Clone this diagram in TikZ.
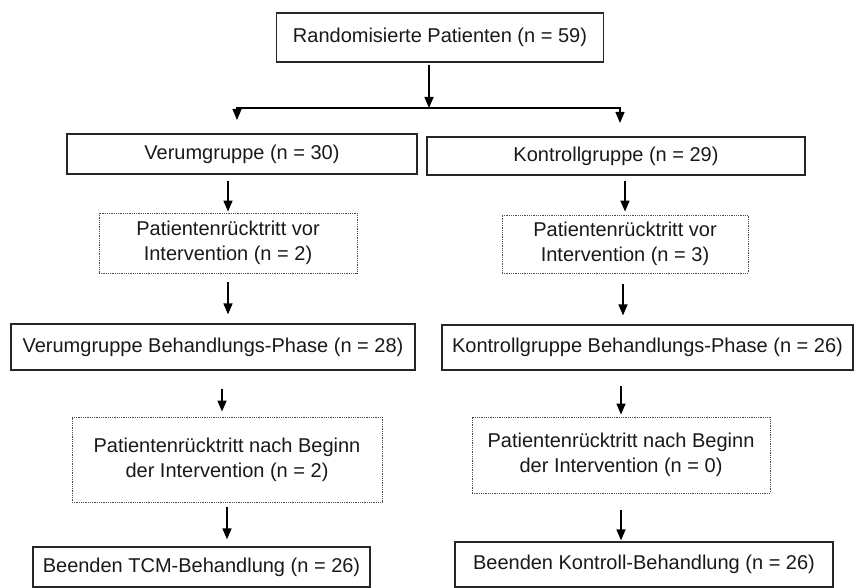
\documentclass[tikz,border=0pt]{standalone}
\usepackage{fontspec}
\setmainfont{Liberation Sans}
\usetikzlibrary{arrows.meta,calc}
\begin{document}
\begin{tikzpicture}[x=1pt,y=-1pt,
  every node/.style={font=\fontsize{20}{25}\selectfont, text=black!90, inner sep=0pt},
  solidbox/.style={draw=black!85, line width=1.2pt, rectangle, align=center},
  dotbox/.style={draw=black!70, line width=0.9pt, dash pattern=on 1pt off 0.8pt, rectangle, align=center},
  arr/.style={draw=black, line width=1.5pt, -{Triangle[width=9pt,length=11pt]}},
  dblarr/.style={draw=black, line width=1.2pt, {Triangle[width=9pt,length=11pt]}-{Triangle[width=9pt,length=11pt]}}
]
\useasboundingbox (0,0) rectangle (861,588);

\node[solidbox, minimum width=327pt, minimum height=49pt] (top) at (440,37.5) {Randomisierte Patienten (n = 59)};

\node[solidbox, minimum width=350pt, minimum height=40pt] (verum) at (242,154) {Verumgruppe (n = 30)};
\node[solidbox, minimum width=378pt, minimum height=38pt] (kontroll) at (616,156) {Kontrollgruppe (n = 29)};

\node[dotbox, minimum width=258pt, minimum height=60pt] (drop1) at (228,243) {Patientenrücktritt vor\\Intervention (n = 2)};
\node[dotbox, minimum width=246pt, minimum height=58pt] (drop2) at (625,244) {Patientenrücktritt vor\\Intervention (n = 3)};

\node[solidbox, minimum width=404pt, minimum height=46pt] (vbeh) at (213,347) {Verumgruppe Behandlungs-Phase (n = 28)};
\node[solidbox, minimum width=411pt, minimum height=45pt] (kbeh) at (647.5,347.5) {Kontrollgruppe Behandlungs-Phase (n = 26)};

\node[dotbox, minimum width=310pt, minimum height=85pt] (drop3) at (227,459.5) {Patientenrücktritt nach Beginn\\der Intervention (n = 2)};
\node[dotbox, minimum width=298pt, minimum height=76pt] (drop4) at (621,455) {Patientenrücktritt nach Beginn\\der Intervention (n = 0)};

\node[solidbox, minimum width=337pt, minimum height=40pt] (vend) at (201.5,567) {Beenden TCM-Behandlung (n = 26)};
\node[solidbox, minimum width=378pt, minimum height=45pt] (kend) at (644,564.5) {Beenden Kontroll-Behandlung (n = 26)};

% split
\coordinate (split) at (429,108);
\coordinate (lc) at (237,108);
\coordinate (rc) at (620,108);
\coordinate (la) at (237,120);
\coordinate (ra) at (620,123);
\draw[arr] ([yshift=-2pt]top.south -| split) -- (split);
\draw[dblarr] (la) -- (lc) -- (rc) -- (ra);

\draw[arr] ([yshift=-6pt]verum.south -| drop1.north) -- ([yshift=1pt]drop1.north);
\draw[arr] ([yshift=-5pt]kontroll.south -| drop2.north) -- ([yshift=3pt]drop2.north);

\draw[arr] ([yshift=-9pt]drop1.south) -- ([yshift=9pt]vbeh.north -| drop1.south);
\draw[arr] ([yshift=-11pt]drop2.south -| 623,0) -- ([yshift=9pt]kbeh.north -| 623,0);

\draw[arr] ([yshift=-18pt]vbeh.south -| 222,0) -- ([yshift=5pt]drop3.north -| 222,0);
\draw[arr] ([yshift=-15pt]kbeh.south -| drop4.north) -- ([yshift=2pt]drop4.north);

\draw[arr] ([yshift=-5pt]drop3.south) -- ([yshift=7pt]vend.north -| drop3.south);
\draw[arr] ([yshift=-17pt]drop4.south) -- ([yshift=1pt]kend.north -| drop4.south);
\end{tikzpicture}
\end{document}
